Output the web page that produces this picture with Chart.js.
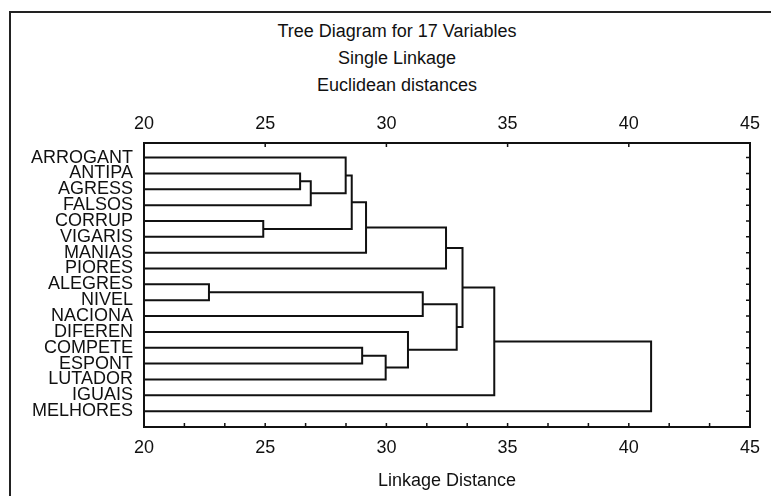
<!DOCTYPE html>
<html>
<head>
<meta charset="utf-8">
<script src="https://cdn.jsdelivr.net/npm/chart.js@4.4.1/dist/chart.umd.min.js"></script>
<style>
  html, body { margin: 0; padding: 0; background: #fff; overflow: hidden; }
  .frame { position: absolute; left: 9px; top: 11px; width: 1000px; height: 1000px; border: 2px solid #222; }
  .wrap { position: absolute; left: 0; top: 0; width: 771px; height: 496px; }
  .titles { position: absolute; left: 0; top: 18px; width: 794px; text-align: center;
            font: 18px 'Liberation Sans', Arial, Helvetica, sans-serif; line-height: 27px; color: #111; }
</style>
</head>
<body>
<div class="frame"></div>
<div class="titles" id="titles"></div>
<div class="wrap"><canvas id="tree"></canvas></div>
<script>
// leaves, top to bottom
var varNames = ["ARROGANT", "ANTIPA", "AGRESS", "FALSOS", "CORRUP", "VIGARIS", "MANIAS", "PIORES",
  "ALEGRES", "NIVEL", "NACIONA", "DIFEREN", "COMPETE", "ESPONT", "LUTADOR", "IGUAIS", "MELHORES"];

// merge steps: node 17+k joins leftChild[k] and rightChild[k] at linkDist[k]
var leftChild  = [8, 4, 1, 19, 0, 21, 12, 22, 23, 11, 17, 24, 27, 28, 30, 31];
var rightChild = [9, 5, 2, 3, 20, 18, 13, 6, 14, 25, 10, 7, 26, 29, 15, 16];
var linkDist   = [22.68, 24.92, 26.44, 26.88, 28.32, 28.57, 29.0, 29.16, 29.97, 30.89, 31.5, 32.46, 32.9, 33.14, 34.45, 40.92];

var distTicks = [20, 25, 30, 35, 40, 45];
var titleLines = ["Tree Diagram for 17 Variables", "Single Linkage", "Euclidean distances"];

var FONT = "'Liberation Sans', Arial, Helvetica, sans-serif";
var INK = "#111";

titleLines.forEach(function(t) {
  var d = document.createElement('div');
  d.textContent = t;
  document.getElementById('titles').appendChild(d);
});

// node positions: leaves start at the axis minimum
var nodeX = [], nodeY = [];
for (var i = 0; i < varNames.length; i++) { nodeX.push(distTicks[0]); nodeY.push(i); }

var datasets = [];
for (var k = 0; k < linkDist.length; k++) {
  var a = leftChild[k], b = rightChild[k], h = linkDist[k];
  datasets.push({
    data: [
      {x: nodeX[a], y: nodeY[a]},
      {x: h, y: nodeY[a]},
      {x: h, y: nodeY[b]},
      {x: nodeX[b], y: nodeY[b]}
    ],
    showLine: true,
    borderColor: INK,
    borderWidth: 2,
    pointRadius: 0,
    tension: 0
  });
  nodeX.push(h);
  nodeY.push((nodeY[a] + nodeY[b]) / 2);
}

// frame of the plot with inward tick marks
var framePlugin = {
  id: 'frame',
  afterDatasetsDraw: function(chart) {
    var ctx = chart.ctx, a = chart.chartArea;
    var sx = chart.scales.x, sy = chart.scales.y;
    ctx.save();
    ctx.strokeStyle = INK;
    ctx.lineWidth = 2;
    ctx.strokeRect(a.left, a.top, a.right - a.left, a.bottom - a.top);
    ctx.lineWidth = 1.5;
    ctx.beginPath();
    // bottom: three steps per labelled interval
    for (var v = distTicks[0]; v <= distTicks[distTicks.length - 1] + 0.01; v += 5 / 3) {
      var px = sx.getPixelForValue(v);
      ctx.moveTo(px, a.bottom); ctx.lineTo(px, a.bottom - 4);
    }
    // top: labelled values only
    distTicks.forEach(function(t) {
      var px = sx.getPixelForValue(t);
      ctx.moveTo(px, a.top); ctx.lineTo(px, a.top + 4);
    });
    // right: one per variable
    varNames.forEach(function(n, i) {
      var py = sy.getPixelForValue(i);
      ctx.moveTo(a.right, py); ctx.lineTo(a.right - 4, py);
    });
    ctx.stroke();
    ctx.restore();
  }
};

new Chart(document.getElementById('tree'), {
  type: 'scatter',
  data: { datasets: datasets },
  plugins: [framePlugin],
  options: {
    responsive: true,
    maintainAspectRatio: false,
    animation: false,
    layout: { padding: { left: 10, right: 21, top: 100, bottom: 0 } },
    plugins: {
      legend: { display: false },
      tooltip: { enabled: false },
      title: { display: false }
    },
    scales: {
      x: {
        type: 'linear',
        position: 'bottom',
        min: 20, max: 45,
        afterBuildTicks: function(s) { s.ticks = distTicks.map(function(v) { return {value: v}; }); },
        afterFit: function(s) { s.height = 69; },
        grid: { display: false, drawTicks: false },
        border: { display: false },
        ticks: { color: INK, padding: 10, maxRotation: 0, font: { family: FONT, size: 18 } },
        title: { display: true, text: 'Linkage Distance', color: INK, padding: { top: 0, bottom: 4 },
                 font: { family: FONT, size: 18 } }
      },
      x2: {
        type: 'linear',
        position: 'top',
        min: 20, max: 45,
        afterBuildTicks: function(s) { s.ticks = distTicks.map(function(v) { return {value: v}; }); },
        afterFit: function(s) { s.height = 43; },
        grid: { display: false, drawTicks: false },
        border: { display: false },
        ticks: { color: INK, padding: 8, maxRotation: 0, font: { family: FONT, size: 18 } }
      },
      y: {
        type: 'linear',
        reverse: true,
        min: -0.92, max: 17.0,
        afterBuildTicks: function(s) { s.ticks = varNames.map(function(n, i) { return {value: i}; }); },
        afterFit: function(s) { s.width = 134; },
        grid: { display: false, drawTicks: false },
        border: { display: false },
        ticks: {
          color: INK, padding: 11, autoSkip: false,
          font: { family: FONT, size: 18 },
          callback: function(v) { return varNames[v]; }
        }
      }
    }
  }
});
</script>
</body>
</html>
